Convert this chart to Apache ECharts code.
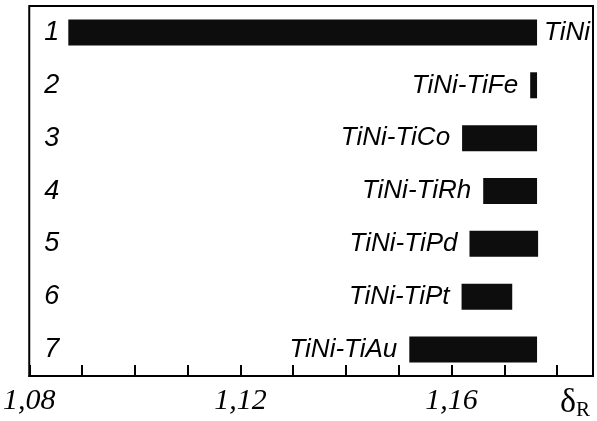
<!DOCTYPE html>
<html>
<head>
<meta charset="utf-8">
<script src="https://cdn.jsdelivr.net/npm/echarts@6/dist/echarts.min.js"></script>
<style>html,body{margin:0;padding:0;background:#fff}#c{width:597px;height:421px}</style>
</head>
<body>
<div id="c"></div>
<script>
const categories = ['1','2','3','4','5','6','7'];
const names = ['TiNi','TiNi-TiFe','TiNi-TiCo','TiNi-TiRh','TiNi-TiPd','TiNi-TiPt','TiNi-TiAu'];
const starts = [1.0874, 1.1749, 1.1620, 1.1660, 1.1634, 1.1619, 1.1520];
const ends   = [1.1762, 1.1762, 1.1762, 1.1762, 1.1764, 1.1715, 1.1762];
const tickLabels = {'1.08':'1,08','1.12':'1,12','1.16':'1,16'};

const chart = echarts.init(document.getElementById('c'));
const lengths = ends.map((e,i)=>+(e-starts[i]).toFixed(4));
chart.setOption({
  animation:false,
  grid:{left:28,right:4,top:6,bottom:44,show:true,borderColor:'#000',borderWidth:2,backgroundColor:'transparent'},
  xAxis:{
    type:'value',min:1.08,max:1.1868,interval:0.01,
    axisLine:{show:true,lineStyle:{color:'#000',width:2}},
    axisTick:{show:true,inside:true,length:11,lineStyle:{color:'#000',width:2}},
    splitLine:{show:false},
    axisLabel:{
      margin:10,color:'#000',fontFamily:'Liberation Serif',fontStyle:'italic',fontSize:30,
      showMaxLabel:false,
      formatter:v=>{const k=(+v).toFixed(2);return tickLabels[k]||'';}
    },
    name:'{d|δ}{r|R}',nameLocation:'end',nameGap:-33,
    nameTextStyle:{verticalAlign:'top',padding:[10,0,0,0],
      rich:{d:{fontFamily:'Liberation Serif',fontSize:34,color:'#000'},
            r:{fontFamily:'Liberation Serif',fontSize:21,color:'#000',verticalAlign:'bottom',padding:[14,0,0,0]}}}
  },
  yAxis:{
    type:'category',data:categories,inverse:true,
    axisLine:{show:false},axisTick:{show:false},
    axisLabel:{inside:true,margin:15,color:'#000',fontFamily:'Liberation Sans',fontStyle:'italic',fontSize:27}
  },
  series:[
    {type:'bar',stack:'r',data:starts,itemStyle:{color:'transparent'},barWidth:26,silent:true},
    {type:'bar',stack:'r',barWidth:26,
     data:lengths.map((l,i)=>({value:l,label:{show:true,position:i===0?'right':'left',distance:i===0?7:12,formatter:names[i]}})),
     itemStyle:{color:'#0d0d0d'},
     label:{color:'#000',fontFamily:'Liberation Sans',fontStyle:'italic',fontSize:26}}
  ]
});
</script>
</body>
</html>
